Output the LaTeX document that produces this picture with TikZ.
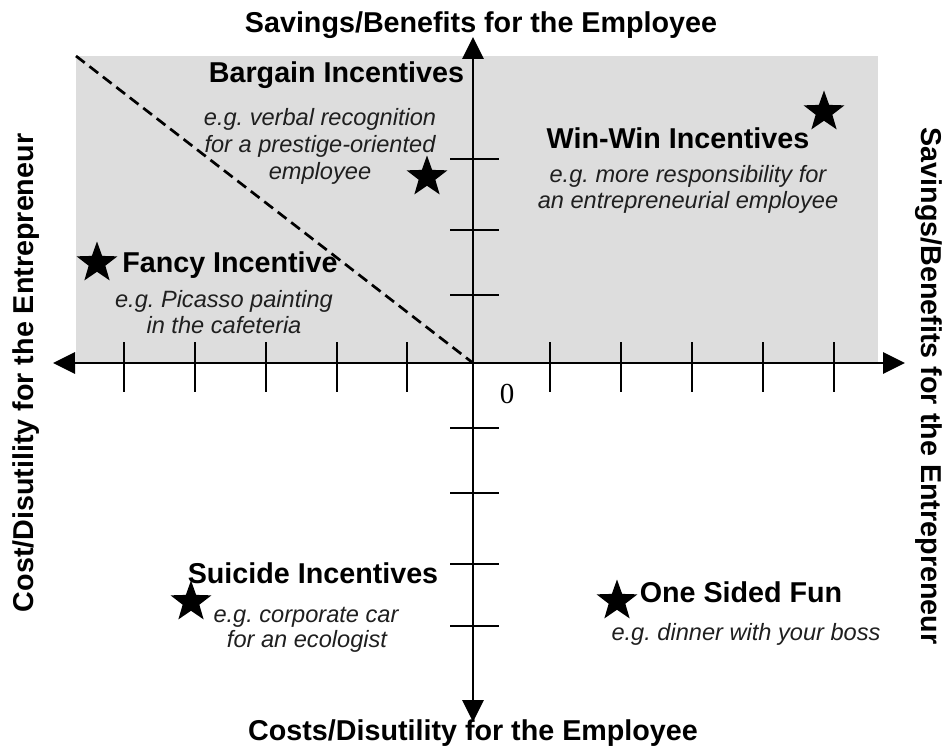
\documentclass[tikz,border=0pt]{standalone}
\usepackage{fontspec}
\setmainfont{Liberation Sans}
\newfontfamily\zerofont{Liberation Serif}
\usetikzlibrary{arrows.meta,shapes.geometric}
\definecolor{quadgray}{RGB}{221,221,221}
\frenchspacing
\begin{document}
\begin{tikzpicture}[x=1pt,y=-1pt,
  axis/.style={line width=2.8pt,-{Triangle[length=22pt,width=21pt]}},
  tickmark/.style={line width=2.6pt},
  bigstar/.style={star,star points=5,star point ratio=2.45,fill=black,draw=none,inner sep=0pt,minimum size=43pt},
  heading/.style={font=\fontsize{28.7}{32}\selectfont\bfseries,anchor=base,inner sep=0pt},
  example/.style={font=\fontsize{23.6}{27}\selectfont\itshape,anchor=base,inner sep=0pt,text=black!88},
  divider/.style={line width=2.7pt,dash pattern=on 11pt off 6pt},
]
\useasboundingbox (0,0) rectangle (946,752);
\coordinate (O) at (473,363);
\coordinate (xL) at (53,363);
\coordinate (xR) at (905,363);
\coordinate (yT) at (473,37);
\coordinate (yB) at (473,722);
\coordinate (gTL) at (76,56);
\coordinate (gBR) at (878,363);
% shaded region
\fill[quadgray] (gTL) rectangle (gBR);
% dashed divider
\draw[divider] (gTL) -- (O);
% axes
\draw[axis] (O) -- (xL);
\draw[axis] (O) -- (xR);
\draw[axis] (O) -- (yT);
\draw[axis] (O) -- (yB);
% ticks
\foreach \x in {124,195,266,337,407,550,621,692,763,834}
  \draw[tickmark] (\x,342) -- (\x,392);
\foreach \y in {159,230,295,428,493,564,626}
  \draw[tickmark] (450,\y) -- (499,\y);
% zero
\node[font=\zerofont\fontsize{29}{30}\selectfont,anchor=base,inner sep=0pt] (zero) at (507,403) {0};
% axis titles
\node[heading] (tTop) at (481,33) {Savings/Benefits for the Employee};
\node[heading] (tBot) at (473,740) {Costs/Disutility for the Employee};
\node[heading,rotate=90] (tLeft) at (33,373) {Cost/Disutility for the Entrepreneur};
\node[heading,rotate=-90] (tRight) at (921,386) {Savings/Benefits for the Entrepreneur};
% stars
\node[bigstar] (sBar) at (427,177) {};
\node[bigstar] (sWin) at (824,112) {};
\node[bigstar] (sFan) at (97,263) {};
\node[bigstar] (sSui) at (191,602) {};
\node[bigstar] (sOne) at (617,601) {};
% headings
\node[heading] (tBar) at (336.5,83) {Bargain Incentives};
\node[heading] (tWin) at (678,148) {Win-Win Incentives};
\node[heading] (tFan) at (230,272) {Fancy Incentive};
\node[heading] (tSui) at (313,583) {Suicide Incentives};
\node[heading] (tOne) at (741,602) {One Sided Fun};
% examples
\node[example] (eBar1) at (320,125) {e.g. verbal recognition};
\node[example] (eBar2) at (320,152) {for a prestige-oriented};
\node[example] (eBar3) at (320,179) {employee};
\node[example] (eWin1) at (688,182) {e.g. more responsibility for};
\node[example] (eWin2) at (688,208) {an entrepreneurial employee};
\node[example] (eFan1) at (224,307) {e.g. Picasso painting};
\node[example] (eFan2) at (224,333) {in the cafeteria};
\node[example] (eSui1) at (306,622) {e.g. corporate car};
\node[example] (eSui2) at (307,647) {for an ecologist};
\node[example] (eOne1) at (746,640) {e.g. dinner with your boss};
\end{tikzpicture}
\end{document}
